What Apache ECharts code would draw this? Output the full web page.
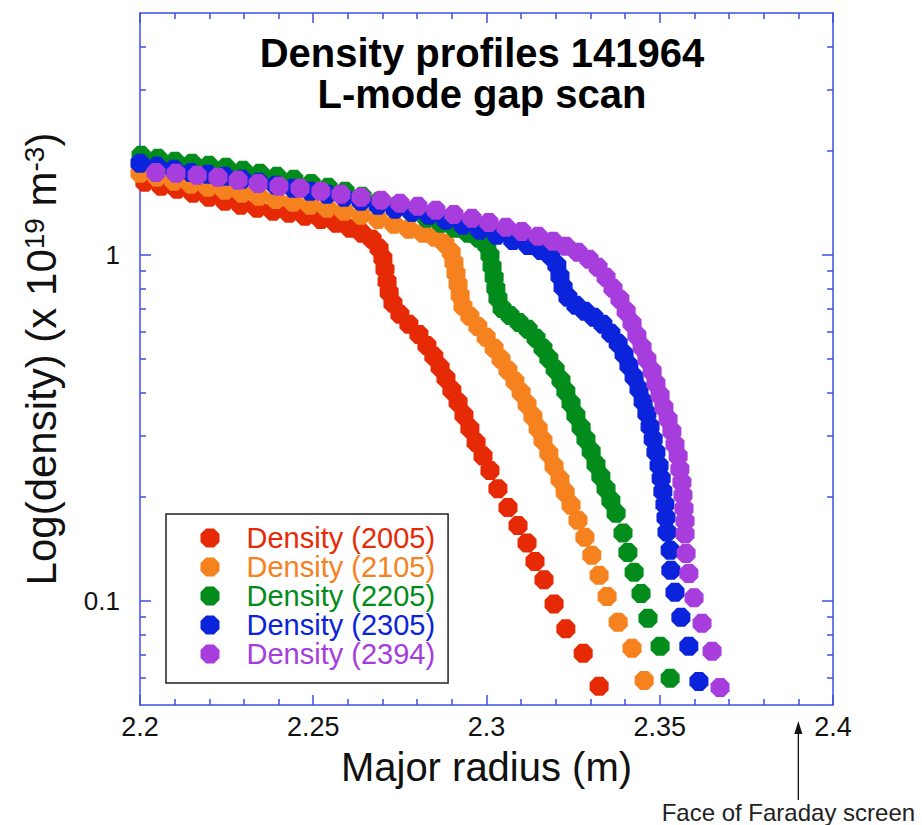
<!DOCTYPE html>
<html>
<head>
<meta charset="utf-8">
<script src="https://cdn.jsdelivr.net/npm/echarts@6/dist/echarts.min.js"></script>
<style>
  html, body { margin: 0; padding: 0; background: #ffffff; }
  #chart { width: 922px; height: 825px; }
</style>
</head>
<body>
<div id="chart"></div>
<script>
// ---- data: reflectometry density profiles, shot 141964 ----
const seriesNames = ['Density (2005)', 'Density (2105)', 'Density (2205)', 'Density (2305)', 'Density (2394)'];
const seriesColors = ['#e62a05', '#f5821e', '#028c1c', '#0b24db', '#a63ddc'];

const radius2005 = [2.2014, 2.2061, 2.2107, 2.2153, 2.2199, 2.2245, 2.2291, 2.2338, 2.2384, 2.2430, 2.2476, 2.2522, 2.2566, 2.2606, 2.2641, 2.2670, 2.2690, 2.2701, 2.2707, 2.2713, 2.2719, 2.2730, 2.2750, 2.2776, 2.2805, 2.2828, 2.2848, 2.2866, 2.2883, 2.2900, 2.2918, 2.2935, 2.2952, 2.2970, 2.2990, 2.3010, 2.3033, 2.3062, 2.3091, 2.3117, 2.3140, 2.3166, 2.3195, 2.3229, 2.3279, 2.3325];
const density2005 = [1.620, 1.578, 1.547, 1.506, 1.466, 1.428, 1.390, 1.363, 1.336, 1.318, 1.292, 1.266, 1.233, 1.193, 1.154, 1.109, 1.044, 0.977, 0.908, 0.838, 0.779, 0.724, 0.673, 0.630, 0.589, 0.547, 0.509, 0.473, 0.440, 0.406, 0.375, 0.344, 0.315, 0.287, 0.262, 0.238, 0.211, 0.186, 0.165, 0.147, 0.130, 0.115, 0.098, 0.083, 0.0705, 0.0566];

const radius2105 = [2.2000, 2.2049, 2.2098, 2.2147, 2.2196, 2.2245, 2.2294, 2.2343, 2.2392, 2.2442, 2.2491, 2.2540, 2.2589, 2.2638, 2.2687, 2.2733, 2.2776, 2.2817, 2.2851, 2.2880, 2.2898, 2.2906, 2.2912, 2.2918, 2.2924, 2.2932, 2.2952, 2.2975, 2.2999, 2.3022, 2.3042, 2.3062, 2.3082, 2.3100, 2.3117, 2.3134, 2.3149, 2.3163, 2.3180, 2.3195, 2.3212, 2.3227, 2.3244, 2.3264, 2.3284, 2.3304, 2.3325, 2.3348, 2.3380, 2.3420, 2.3455];
const density2105 = [1.720, 1.675, 1.631, 1.599, 1.567, 1.536, 1.506, 1.476, 1.446, 1.418, 1.390, 1.363, 1.336, 1.301, 1.266, 1.225, 1.185, 1.154, 1.124, 1.079, 1.017, 0.951, 0.884, 0.822, 0.764, 0.710, 0.664, 0.621, 0.578, 0.537, 0.499, 0.464, 0.431, 0.400, 0.370, 0.341, 0.315, 0.291, 0.267, 0.245, 0.2245, 0.206, 0.189, 0.171, 0.1526, 0.1354, 0.1185, 0.1030, 0.0867, 0.0729, 0.0589];

const radius2205 = [2.2003, 2.2052, 2.2101, 2.2150, 2.2199, 2.2248, 2.2297, 2.2346, 2.2395, 2.2444, 2.2494, 2.2543, 2.2592, 2.2641, 2.2690, 2.2739, 2.2785, 2.2828, 2.2869, 2.2909, 2.2947, 2.2978, 2.3001, 2.3010, 2.3016, 2.3022, 2.3027, 2.3033, 2.3045, 2.3068, 2.3094, 2.3120, 2.3143, 2.3163, 2.3180, 2.3198, 2.3215, 2.3229, 2.3244, 2.3258, 2.3273, 2.3287, 2.3302, 2.3316, 2.3330, 2.3345, 2.3359, 2.3374, 2.3394, 2.3408, 2.3426, 2.3446, 2.3466, 2.3501, 2.3530];
const density2205 = [1.939, 1.901, 1.863, 1.839, 1.814, 1.790, 1.755, 1.720, 1.686, 1.653, 1.609, 1.567, 1.526, 1.476, 1.428, 1.381, 1.327, 1.275, 1.233, 1.193, 1.154, 1.117, 1.065, 0.997, 0.926, 0.861, 0.800, 0.749, 0.700, 0.668, 0.638, 0.609, 0.574, 0.537, 0.502, 0.467, 0.434, 0.403, 0.372, 0.344, 0.317, 0.293, 0.2705, 0.248, 0.229, 0.211, 0.195, 0.179, 0.157, 0.138, 0.121, 0.105, 0.089, 0.0739, 0.0597];

const radius2305 = [2.2000, 2.2049, 2.2098, 2.2147, 2.2196, 2.2245, 2.2294, 2.2343, 2.2392, 2.2442, 2.2491, 2.2540, 2.2589, 2.2638, 2.2687, 2.2736, 2.2785, 2.2834, 2.2883, 2.2932, 2.2981, 2.3030, 2.3076, 2.3120, 2.3157, 2.3186, 2.3203, 2.3212, 2.3221, 2.3235, 2.3258, 2.3284, 2.3310, 2.3336, 2.3359, 2.3380, 2.3397, 2.3411, 2.3426, 2.3440, 2.3452, 2.3463, 2.3472, 2.3481, 2.3489, 2.3498, 2.3504, 2.3509, 2.3515, 2.3518, 2.3521, 2.3530, 2.3532, 2.3544, 2.3561, 2.3584, 2.3613];
const density2305 = [1.839, 1.802, 1.767, 1.731, 1.709, 1.686, 1.653, 1.620, 1.588, 1.557, 1.526, 1.496, 1.466, 1.428, 1.390, 1.354, 1.327, 1.301, 1.258, 1.217, 1.177, 1.139, 1.101, 1.065, 1.030, 0.990, 0.933, 0.867, 0.806, 0.754, 0.715, 0.687, 0.660, 0.630, 0.593, 0.555, 0.516, 0.479, 0.443, 0.409, 0.377, 0.348, 0.319, 0.293, 0.269, 0.246, 0.226, 0.207, 0.190, 0.174, 0.158, 0.140, 0.1225, 0.1058, 0.0896, 0.0739, 0.0585];

const radius2394 = [2.2046, 2.2104, 2.2165, 2.2225, 2.2283, 2.2341, 2.2401, 2.2462, 2.2522, 2.2580, 2.2638, 2.2696, 2.2750, 2.2802, 2.2854, 2.2906, 2.2958, 2.3007, 2.3056, 2.3102, 2.3149, 2.3192, 2.3229, 2.3264, 2.3296, 2.3322, 2.3345, 2.3365, 2.3385, 2.3403, 2.3420, 2.3434, 2.3449, 2.3463, 2.3478, 2.3489, 2.3501, 2.3512, 2.3524, 2.3535, 2.3544, 2.3553, 2.3558, 2.3564, 2.3567, 2.3570, 2.3573, 2.3573, 2.3576, 2.3584, 2.3599, 2.3622, 2.3651, 2.3674];
const density2394 = [1.731, 1.720, 1.697, 1.675, 1.642, 1.609, 1.578, 1.557, 1.526, 1.496, 1.466, 1.437, 1.409, 1.381, 1.345, 1.309, 1.275, 1.241, 1.201, 1.169, 1.131, 1.094, 1.058, 1.017, 0.971, 0.920, 0.861, 0.800, 0.744, 0.687, 0.634, 0.585, 0.541, 0.499, 0.461, 0.425, 0.393, 0.362, 0.335, 0.309, 0.283, 0.262, 0.240, 0.220, 0.202, 0.185, 0.170, 0.156, 0.137, 0.120, 0.102, 0.0861, 0.0715, 0.0562];

// axis ranges and tick positions
const radiusRange = [2.2, 2.4];
const radiusStep = 0.05;
const densityRange = [0.05, 5];
const densityMajorTicks = [0.1, 1];
const densityMinorTicks = [0.06, 0.07, 0.08, 0.09, 0.2, 0.3, 0.4, 0.5, 0.6, 0.7, 0.8, 0.9, 2, 3, 4];
const faradayRadius = 2.39;

// ---- styling ----
const FONT = '"Liberation Sans", Arial, Helvetica, sans-serif';
const AXIS_BLUE = '#3c4fe6';
const OCTAGON = 'path://M29.3,0L70.7,0L100,29.3L100,70.7L70.7,100L29.3,100L0,70.7L0,29.3Z';

const radii = [radius2005, radius2105, radius2205, radius2305, radius2394];
const densities = [density2005, density2105, density2205, density2305, density2394];

const lineStyle = { color: AXIS_BLUE, width: 1.5 };
const titleStyle = { fontSize: 40, fontWeight: 'bold', lineHeight: 40, fontFamily: FONT, color: '#000' };

function radiusAxis(position, withLabels) {
  return {
    type: 'value',
    position: position,
    min: radiusRange[0],
    max: radiusRange[1],
    interval: radiusStep,
    axisLine: { show: true, onZero: false, lineStyle: lineStyle },
    axisTick: { show: true, inside: true, length: 10, lineStyle: lineStyle },
    minorTick: { show: true, splitNumber: 5, length: 6, lineStyle: lineStyle },
    splitLine: { show: false },
    minorSplitLine: { show: false },
    axisLabel: withLabels ? {
      show: true, margin: 8, fontSize: 27, fontFamily: FONT, color: '#111',
      formatter: function (v) { return String(+v.toFixed(2)); }
    } : { show: false },
    name: withLabels ? 'Major radius (m)' : '',
    nameLocation: 'middle',
    nameGap: 42,
    nameTextStyle: { fontSize: 40, fontFamily: FONT, color: '#111' }
  };
}

function densityAxis(position, ticks, tickLen, main) {
  const axis = {
    type: 'log',
    logBase: 10,
    position: position,
    min: densityRange[0],
    max: densityRange[1],
    axisLine: { show: main, lineStyle: lineStyle },
    axisTick: { show: true, inside: true, length: tickLen, customValues: ticks, lineStyle: lineStyle },
    minorTick: { show: false },
    splitLine: { show: false },
    axisLabel: { show: false }
  };
  if (main && position === 'left') {
    axis.axisLabel = {
      show: true, customValues: densityMajorTicks, margin: 20,
      fontSize: 26, fontFamily: FONT, color: '#111'
    };
    axis.name = '{n|Log(density) (x 10}{s|19}{n| m}{s|-3}{n|)}';
    axis.nameLocation = 'middle';
    axis.nameGap = 78;
    axis.nameTextStyle = {
      color: '#111',
      rich: {
        n: { fontSize: 42, fontFamily: FONT, color: '#111', lineHeight: 42, verticalAlign: 'bottom' },
        s: { fontSize: 28, fontFamily: FONT, color: '#111', lineHeight: 28, verticalAlign: 'top', padding: [0, 0, 24, 0] }
      }
    };
  }
  return axis;
}

const chart = echarts.init(document.getElementById('chart'), null, { renderer: 'svg' });

chart.setOption({
  animation: false,
  backgroundColor: '#ffffff',
  title: {
    text: 'Density profiles 141964',
    subtext: 'L-mode gap scan',
    left: 482,
    top: 33,
    itemGap: 1,
    padding: 0,
    textAlign: 'center',
    textStyle: titleStyle,
    subtextStyle: titleStyle
  },
  grid: { left: 140, top: 13, right: 89, bottom: 120, containLabel: false },
  xAxis: [radiusAxis('bottom', true), radiusAxis('top', false)],
  yAxis: [
    densityAxis('left', densityMajorTicks, 11, true),
    densityAxis('left', densityMinorTicks, 6, false),
    densityAxis('right', densityMajorTicks, 11, true),
    densityAxis('right', densityMinorTicks, 6, false)
  ],
  legend: {
    orient: 'vertical',
    left: 166,
    top: 514,
    padding: [9.5, 13, 14.5, 34.5],
    itemGap: 0,
    itemWidth: 19,
    itemHeight: 19,
    icon: OCTAGON,
    selectedMode: false,
    backgroundColor: '#ffffff',
    borderColor: '#222222',
    borderWidth: 1.5,
    borderRadius: 0,
    textStyle: { fontSize: 29, fontFamily: FONT, padding: [0, 0, 0, 22] },
    data: seriesNames.map(function (name, i) {
      return { name: name, textStyle: { color: seriesColors[i] } };
    })
  },
  series: seriesNames.map(function (name, i) {
    return {
      name: name,
      type: 'scatter',
      xAxisIndex: 0,
      yAxisIndex: 0,
      data: radii[i].map(function (r, k) { return [r, densities[i][k]]; }),
      symbol: OCTAGON,
      symbolSize: 19,
      clip: false,
      itemStyle: { color: seriesColors[i], opacity: 1 },
      emphasis: { disabled: true }
    };
  })
});

// arrow and note marking the Faraday screen face, placed through the radius axis
const arrowX = chart.convertToPixel({ xAxisIndex: 0 }, faradayRadius);
chart.setOption({
  graphic: [
    {
      type: 'line',
      shape: { x1: arrowX, y1: 800, x2: arrowX, y2: 728 },
      style: { stroke: '#111', lineWidth: 1.3 }
    },
    {
      type: 'polygon',
      shape: { points: [[arrowX - 4, 734], [arrowX, 721], [arrowX + 4, 734]] },
      style: { fill: '#111' }
    },
    {
      type: 'text',
      x: arrowX - 10,
      y: 812,
      style: {
        text: 'Face of Faraday screen',
        fontSize: 24,
        fontFamily: FONT,
        fill: '#222',
        align: 'center',
        verticalAlign: 'middle'
      }
    }
  ]
});
</script>
</body>
</html>
